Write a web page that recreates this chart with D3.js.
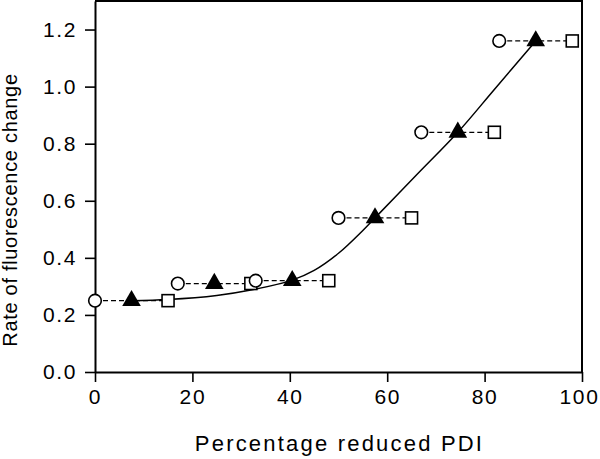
<!DOCTYPE html>
<html>
<head>
<meta charset="utf-8">
<script src="https://cdn.jsdelivr.net/npm/d3@7"></script>
<style>
  html, body { margin: 0; padding: 0; background: #fff; }
  svg { display: block; }
  text { font-family: "Liberation Sans", Arial, sans-serif; fill: #000; }
</style>
</head>
<body>
<svg id="chart" width="600" height="459"></svg>
<script>
// ---- data ----
const levels = [0.25, 0.31, 0.32, 0.54, 0.84, 1.16];
const circleX = [0, 17, 33, 50, 67, 83];
const triangleX = [7.5, 24.5, 40.5, 57.5, 74.5, 90.5];
const squareX = [15, 32, 48, 65, 82, 98];
// fitted curve
const curveX = [7.5, 15, 25, 32, 40.5, 45, 50, 55, 57.5, 66, 74.5, 82, 90.5];
const curveY = [0.25, 0.254, 0.268, 0.287, 0.322, 0.356, 0.416, 0.496, 0.54, 0.69, 0.84, 0.99, 1.16];
const xTicks = [0, 20, 40, 60, 80, 100];
const yTicks = [0.0, 0.2, 0.4, 0.6, 0.8, 1.0, 1.2];
const xLabel = "Percentage reduced PDI";
const yLabel = "Rate of fluorescence change";

// ---- layout ----
const W = 600, H = 459;
const m = { left: 95, right: 18, top: 1, bottom: 87 };
const svg = d3.select("#chart");
const x = d3.scaleLinear().domain([0, 100]).range([m.left, W - m.right]);
const y = d3.scaleLinear().domain([0, 1.3]).range([H - m.bottom, m.top]);

// frame
svg.append("path")
  .attr("d", `M${x(0)},${y(1.3)}H${x(100)}V${y(0)}`)
  .attr("fill", "none").attr("stroke", "#000").attr("stroke-width", 2);

// axes
const xAxis = svg.append("g").attr("transform", `translate(0,${y(0)})`)
  .call(d3.axisBottom(x).tickValues(xTicks).tickFormat(d3.format("d")).tickSize(10).tickPadding(7).tickSizeOuter(0));
const yAxis = svg.append("g").attr("transform", `translate(${x(0)},0)`)
  .call(d3.axisLeft(y).tickValues(yTicks).tickFormat(d3.format(".1f")).tickSize(10).tickPadding(8).tickSizeOuter(0));
[xAxis, yAxis].forEach(g => {
  g.select(".domain").attr("stroke-width", 2);
  g.selectAll(".tick line").attr("stroke-width", 1.6);
  g.selectAll("text").attr("font-size", 21).attr("font-family", "Liberation Sans, Arial, sans-serif")
    .style("letter-spacing", "1.6px");
});
xAxis.selectAll("text").attr("dx", d => d === 100 ? "-3px" : "0px");

// dashed connectors
svg.append("g").selectAll("line").data(levels).join("line")
  .attr("x1", (d, i) => x(circleX[i])).attr("x2", (d, i) => x(squareX[i]))
  .attr("y1", d => y(d)).attr("y2", d => y(d))
  .attr("stroke", "#000").attr("stroke-width", 1.3).attr("stroke-dasharray", "5,3");

// fitted curve
svg.append("path")
  .datum(curveX.map((v, i) => [v, curveY[i]]))
  .attr("d", d3.line().x(d => x(d[0])).y(d => y(d[1])).curve(d3.curveCatmullRom.alpha(0.5)))
  .attr("fill", "none").attr("stroke", "#000").attr("stroke-width", 1.5);

// squares
svg.append("g").selectAll("rect").data(levels).join("rect")
  .attr("x", (d, i) => x(squareX[i]) - 6).attr("y", d => y(d) - 6)
  .attr("width", 12).attr("height", 12)
  .attr("fill", "#fff").attr("stroke", "#000").attr("stroke-width", 1.6);

// circles
svg.append("g").selectAll("circle").data(levels).join("circle")
  .attr("cx", (d, i) => x(circleX[i])).attr("cy", d => y(d)).attr("r", 6.3)
  .attr("fill", "#fff").attr("stroke", "#000").attr("stroke-width", 1.6);

// triangles
const tri = d3.symbol().type(d3.symbolTriangle).size(150);
svg.append("g").selectAll("path").data(levels).join("path")
  .attr("transform", (d, i) => `translate(${x(triangleX[i])},${y(d)})`)
  .attr("d", tri).attr("fill", "#000");

// axis titles
svg.append("text")
  .attr("x", (x(0) + x(100)) / 2 + 1).attr("y", 451)
  .attr("text-anchor", "middle").attr("font-size", 22)
  .style("letter-spacing", "2.2px").text(xLabel);
svg.append("text")
  .attr("transform", `translate(17,${210}) rotate(-90)`)
  .attr("text-anchor", "middle").attr("font-size", 20)
  .style("letter-spacing", "0.7px").text(yLabel);
</script>
</body>
</html>
